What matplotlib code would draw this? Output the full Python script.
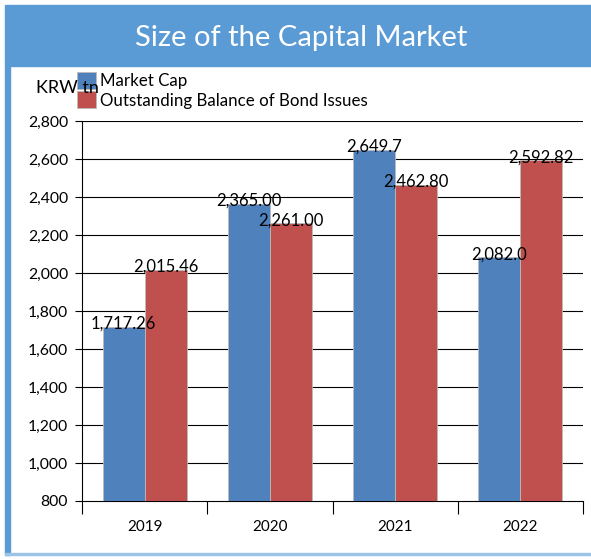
import matplotlib.pyplot as plt
import numpy as np
from matplotlib.patches import Rectangle

# data
years = ['2019', '2020', '2021', '2022']
market_cap = [1717.26, 2365.00, 2649.7, 2082.0]
bond_balance = [2015.46, 2261.00, 2462.80, 2592.82]
cap_labels = ['1,717.26', '2,365.00', '2,649.7', '2,082.0']
bond_labels = ['2,015.46', '2,261.00', '2,462.80', '2,592.82']
yticks = list(range(800, 2801, 200))

blue = '#4F81BD'
red = '#C0504D'
banner = '#5B9BD5'

plt.rcParams['font.family'] = ['Lato', 'DejaVu Sans']

W, H = 591, 559
fig = plt.figure(figsize=(W / 100, H / 100), dpi=100)

# frame: banner, left border, bottom border
fig.patches.append(Rectangle((5 / W, 1 - 66 / H), 1 - 5 / W, 61 / H,
                             transform=fig.transFigure, color=banner, zorder=0))
fig.patches.append(Rectangle((5 / W, 4 / H), 5 / W, 1 - 70 / H,
                             transform=fig.transFigure, color=banner, zorder=0))
fig.patches.append(Rectangle((5 / W, 4 / H), 1 - 5 / W, 2 / H,
                             transform=fig.transFigure, color='#9DC3E6', zorder=0))
fig.text(301 / W, 1 - 38 / H, 'Size of the Capital Market', color='white',
         fontsize=21, ha='center', va='center')

ax = fig.add_axes([82 / W, 1 - 501 / H, (583 - 82) / W, (501 - 121) / H])
x = np.arange(len(years))
bw = 0.335
b1 = ax.bar(x - bw / 2, [v - 800 for v in market_cap], bw, bottom=800,
            color=blue, edgecolor='#BBBBBB', linewidth=0.6, zorder=3, label='Market Cap')
b2 = ax.bar(x + bw / 2, [v - 800 for v in bond_balance], bw, bottom=800,
            color=red, edgecolor='#BBBBBB', linewidth=0.6, zorder=3,
            label='Outstanding Balance of Bond Issues')

for i in range(len(years)):
    ax.annotate(cap_labels[i], (x[i] - bw / 2, market_cap[i]), xytext=(0, -3.5),
                textcoords='offset points', ha='center', va='bottom', fontsize=12, zorder=5)
    ax.annotate(bond_labels[i], (x[i] + bw / 2, bond_balance[i]), xytext=(0, -3.5),
                textcoords='offset points', ha='center', va='bottom', fontsize=12, zorder=5)

ax.set_xlim(-0.5, len(years) - 0.5)
ax.set_ylim(800, 2800)
ax.set_yticks(yticks)
ax.set_yticklabels([f'{v:,}' for v in yticks], fontsize=11.3)
for v in yticks[1:]:
    ax.axhline(v, color='black', linewidth=0.8, zorder=1)

ax.set_xticks(x)
ax.set_xticklabels(years, fontsize=11)
ax.tick_params(axis='x', length=0, pad=14)
# category boundary ticks
ax.set_xticks(np.arange(-0.5, len(years)), minor=True)
ax.tick_params(axis='x', which='minor', length=9, width=0.8, direction='out')
ax.tick_params(axis='y', length=5, width=0.8, direction='out', pad=5)

ax.spines['top'].set_visible(False)
ax.spines['right'].set_visible(False)
ax.spines['left'].set_linewidth(0.8)
ax.spines['bottom'].set_linewidth(0.8)

leg = fig.legend(handles=[b1, b2], loc='upper left', bbox_to_anchor=(75 / W, 1 - 70 / H),
                 frameon=False, fontsize=12.2, handlelength=1.12, handleheight=1.2,
                 labelspacing=0.12, handletextpad=0.25, borderpad=0.1, borderaxespad=0)
leg.set_zorder(4)
fig.text(36 / W, 1 - 88 / H, 'KRW tn', fontsize=13, va='center', ha='left', zorder=6)

fig.savefig('out.png', dpi=100)
